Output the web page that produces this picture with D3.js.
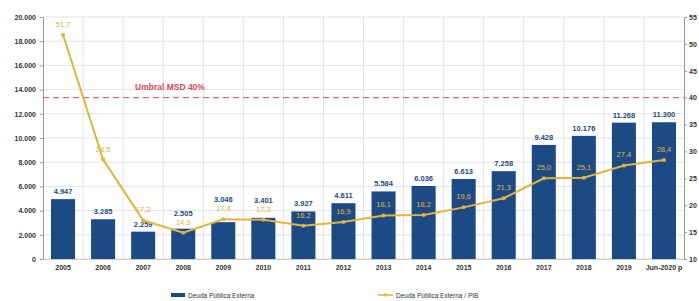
<!DOCTYPE html>
<html>
<head>
<meta charset="utf-8">
<script src="https://cdn.jsdelivr.net/npm/d3@7"></script>
<style>
  body { margin: 0; background: #fff; }
  svg { font-family: "Liberation Sans", Arial, sans-serif; }
</style>
</head>
<body>
<svg id="chart" width="699" height="301"></svg>
<script>
const years = ['2005', '2006', '2007', '2008', '2009', '2010', '2011', '2012', '2013', '2014', '2015', '2016', '2017', '2018', '2019', 'Jun-2020 p'];
const debt = [4947, 3285, 2259, 2505, 3046, 3401, 3927, 4611, 5584, 6036, 6613, 7258, 9428, 10176, 11268, 11300];
const debtGdp = [51.7, 28.5, 17.2, 14.9, 17.4, 17.3, 16.2, 16.9, 18.1, 18.2, 19.6, 21.3, 25.0, 25.1, 27.4, 28.4];
const leftTicks = [0, 2000, 4000, 6000, 8000, 10000, 12000, 14000, 16000, 18000, 20000];
const rightTicks = [10, 15, 20, 25, 30, 35, 40, 45, 50, 55];
const threshold = 40;

const navy = '#1b4a84';
const gold = '#e2b53a';
const red = '#dd4a55';

const svg = d3.select('#chart');
const plotL = 43, plotR = 684, plotT = 17, plotB = 259;

const x = d3.scaleBand().domain(years).range([plotL, plotR]).paddingInner(0.4).paddingOuter(0.2);
const yL = d3.scaleLinear().domain([0, 20000]).range([plotB, plotT]);
const yR = d3.scaleLinear().domain([10, 55]).range([plotB, plotT]);

const fmtInt = d3.formatLocale({ decimal: ',', thousands: '.', grouping: [3], currency: ['', ''] }).format(',d');
const fmtDec = v => v.toFixed(1).replace('.', ',');

// grid
svg.append('g')
  .selectAll('line')
  .data(leftTicks)
  .join('line')
  .attr('x1', plotL).attr('x2', plotR)
  .attr('y1', d => yL(d)).attr('y2', d => yL(d))
  .attr('stroke', '#dcdcdc').attr('stroke-width', 0.8);

const step = x.step();
svg.append('g')
  .selectAll('line')
  .data(d3.range(1, years.length))
  .join('line')
  .attr('x1', i => plotL + i * step).attr('x2', i => plotL + i * step)
  .attr('y1', plotT).attr('y2', plotB)
  .attr('stroke', '#dcdcdc').attr('stroke-width', 0.8);

// axes
const axL = svg.append('g')
  .attr('transform', `translate(${plotL},0)`)
  .call(d3.axisLeft(yL).tickValues(leftTicks).tickFormat(fmtInt).tickSize(3).tickPadding(4));
const axR = svg.append('g')
  .attr('transform', `translate(${plotR},0)`)
  .call(d3.axisRight(yR).tickValues(rightTicks).tickSize(3).tickPadding(2));
const axB = svg.append('g')
  .attr('transform', `translate(0,${plotB})`)
  .call(d3.axisBottom(x).tickSize(0).tickPadding(6));

[axL, axR, axB].forEach(ax => {
  ax.select('.domain').attr('stroke', '#999');
  ax.selectAll('.tick line').attr('stroke', '#999');
  ax.selectAll('text').attr('fill', '#333').attr('font-size', 7).attr('font-weight', 'bold');
});
axB.select('.domain').attr('stroke', '#ccc');

// threshold
svg.append('line')
  .attr('x1', plotL).attr('x2', plotR)
  .attr('y1', yR(threshold)).attr('y2', yR(threshold))
  .attr('stroke', red).attr('stroke-width', 1)
  .attr('stroke-dasharray', '6,4');
svg.append('text')
  .attr('x', 135).attr('y', yR(threshold) - 8)
  .attr('fill', red).attr('font-size', 8.5).attr('font-weight', 'bold')
  .text('Umbral MSD 40%');

// bars
svg.append('g')
  .selectAll('rect')
  .data(debt)
  .join('rect')
  .attr('x', (d, i) => x(years[i]))
  .attr('y', d => yL(d))
  .attr('width', x.bandwidth())
  .attr('height', d => plotB - yL(d))
  .attr('fill', navy);

// line label y, then bar label y pushed above it when they would collide
const lineLabelY = debtGdp.map(d => yR(d) - 8);
const barLabelY = debt.map((d, i) => {
  const yb = yL(d) - 5;
  return Math.abs(yb - lineLabelY[i]) < 9 ? lineLabelY[i] - 9 : yb;
});

svg.append('g')
  .selectAll('text')
  .data(debt)
  .join('text')
  .attr('x', (d, i) => x(years[i]) + x.bandwidth() / 2)
  .attr('y', (d, i) => barLabelY[i])
  .attr('text-anchor', 'middle')
  .attr('fill', navy).attr('font-size', 7.5).attr('font-weight', 'bold')
  .text(d => fmtInt(d));

// line
const cx = (d, i) => x(years[i]) + x.bandwidth() / 2;
svg.append('path')
  .datum(debtGdp)
  .attr('d', d3.line().x(cx).y(d => yR(d)))
  .attr('fill', 'none')
  .attr('stroke', gold).attr('stroke-width', 2);

svg.append('g')
  .selectAll('circle')
  .data(debtGdp)
  .join('circle')
  .attr('cx', cx).attr('cy', d => yR(d)).attr('r', 2)
  .attr('fill', gold);

svg.append('g')
  .selectAll('text')
  .data(debtGdp)
  .join('text')
  .attr('x', cx)
  .attr('y', (d, i) => lineLabelY[i])
  .attr('text-anchor', 'middle')
  .attr('fill', gold).attr('font-size', 7.5)
  .text(d => fmtDec(d));

// legend
const lg = svg.append('g').attr('font-size', 6.5).attr('fill', '#333');
lg.append('rect').attr('x', 171).attr('y', 293).attr('width', 14).attr('height', 4).attr('fill', navy);
lg.append('text').attr('x', 188).attr('y', 297.5).text('Deuda Pública Externa');
lg.append('line').attr('x1', 378).attr('x2', 393).attr('y1', 295).attr('y2', 295).attr('stroke', gold).attr('stroke-width', 1.5);
lg.append('circle').attr('cx', 385.5).attr('cy', 295).attr('r', 1.8).attr('fill', gold);
lg.append('text').attr('x', 396).attr('y', 297.5).text('Deuda Pública Externa / PIB');
</script>
</body>
</html>
